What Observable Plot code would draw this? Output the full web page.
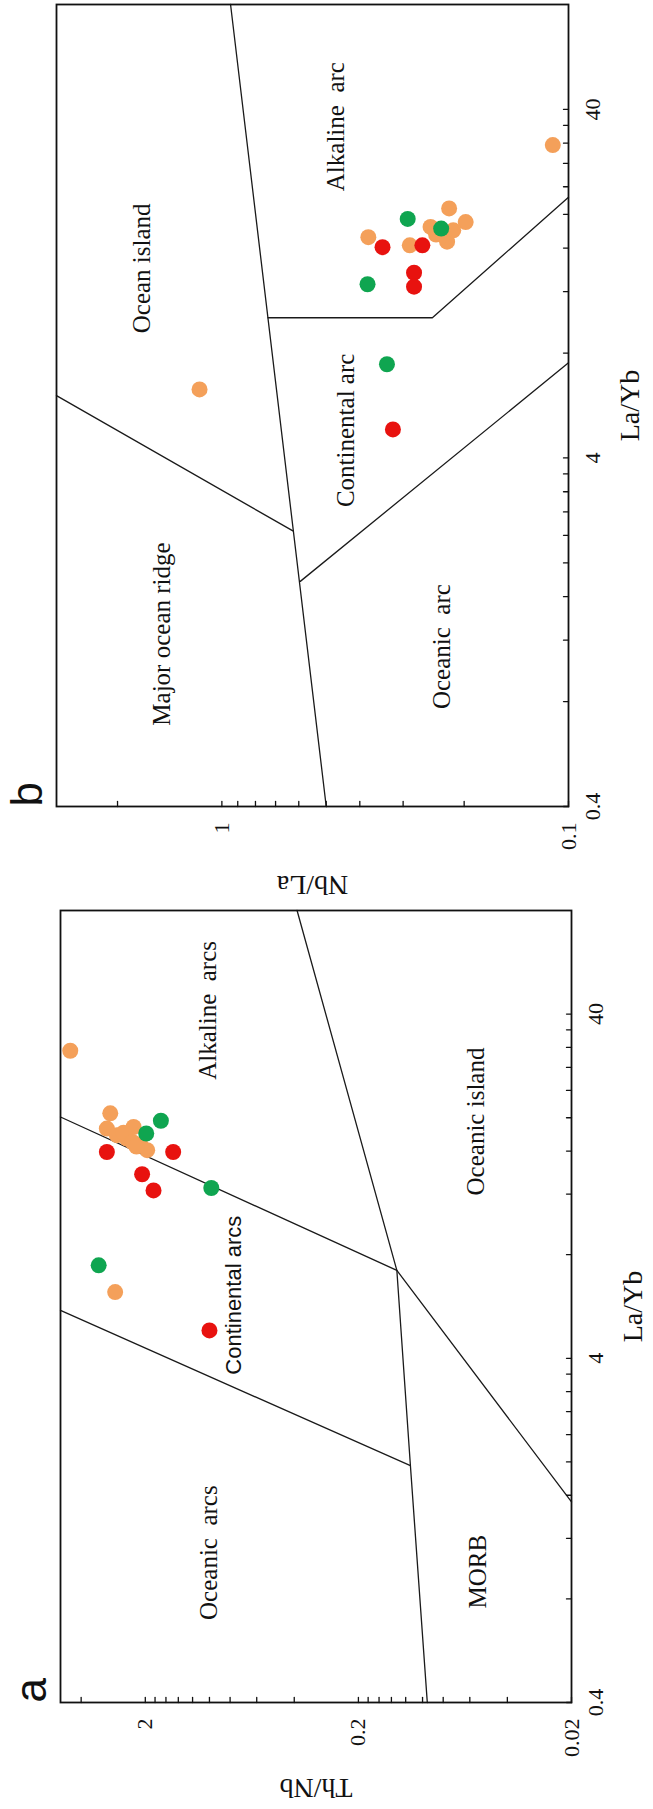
<!DOCTYPE html>
<html>
<head>
<meta charset="utf-8">
<script src="https://cdn.jsdelivr.net/npm/d3@7"></script>
<script src="https://cdn.jsdelivr.net/npm/@observablehq/plot@0.6"></script>
<style>
html, body { margin: 0; padding: 0; background: #fff; }
body { width: 653px; height: 1809px; overflow: hidden; position: relative; }
#fig { position: absolute; left: 0; top: 0; width: 1809px; height: 653px; display: flex;
       transform-origin: 0 0; transform: translate(0, 1809px) rotate(-90deg); background: #fff; }
</style>
</head>
<body>
<div id="fig"></div>
<script>
// ---------- axis ticks ----------
const xTicks = [0.4, 0.8, 1.2, 1.6, 2, 2.4, 2.8, 3.2, 3.6, 4, 8, 12, 16, 20, 24, 28, 32, 36, 40];
const xTickLabels = [0.4, 4, 40];
const aYTicks = [0.02, 0.04, 0.06, 0.08, 0.1, 0.12, 0.14, 0.16, 0.18, 0.2, 0.4, 0.6, 0.8, 1, 1.2, 1.4, 1.6, 1.8, 2, 4];
const aYTickLabels = [0.02, 0.2, 2];
const bYTicks = [0.1, 0.2, 0.3, 0.4, 0.5, 0.6, 0.7, 0.8, 0.9, 1, 2];
const bYTickLabels = [0.1, 1];

// ---------- panel a : La/Yb vs Th/Nb ----------
const aOrange = [[31.3, 4.5], [20.6, 2.92], [18.8, 2.27], [18.6, 3.03], [17.8, 2.72], [17.4, 2.44], [16.7, 2.11], [16.1, 1.96], [18.1, 2.53], [17.0, 2.3], [16.5, 2.2], [6.23, 2.77]];
const aRed = [[15.9, 3.03], [15.9, 1.48], [13.7, 2.07], [12.3, 1.83], [4.82, 1.0]];
const aGreen = [[19.6, 1.69], [18.0, 1.98], [12.5, 0.98], [7.45, 3.31]];
const aLineOceanicCont = [[5.51, 5], [1.95, 0.114]];
const aLineContAlk = [[20.1, 5], [7.2, 0.132]];
const aLineMorbArray = [[0.4, 0.095], [1.95, 0.114], [7.2, 0.132], [80, 0.388]];
const aLineMorbOib = [[7.2, 0.132], [1.53, 0.02]];
const aRegions = [
  {text: "Alkaline  arcs", x: 41, y: 1.02, sans: false},
  {text: "Oceanic island", x: 19.5, y: 0.056, sans: false},
  {text: "Continental arcs", x: 6.1, y: 0.77, sans: true},
  {text: "Oceanic  arcs", x: 1.09, y: 1.0, sans: false},
  {text: "MORB", x: 0.96, y: 0.055, sans: false}
];

// ---------- panel b : La/Yb vs Nb/La ----------
const bOrange = [[31.6, 0.111], [20.8, 0.221], [19.0, 0.198], [17.2, 0.378], [16.3, 0.287], [18.4, 0.25], [16.7, 0.224], [18.0, 0.215], [17.5, 0.241], [17.4, 0.23], [6.29, 1.16]];
const bRed = [[16.1, 0.344], [16.3, 0.264], [13.6, 0.279], [12.4, 0.279], [4.83, 0.321]];
const bGreen = [[19.4, 0.291], [18.2, 0.233], [12.6, 0.38], [7.43, 0.334]];
const bLineMain = [[0.4, 0.5], [80, 0.944]];
const bLineOceanIsland = [[6.04, 3], [2.47, 0.624]];
const bLineArc = [[1.77, 0.594], [7.5, 0.1]];
const bLineAlkaline = [[10.1, 0.736], [10.1, 0.247], [22.4, 0.1]];
const bRegions = [
  {text: "Alkaline  arc", x: 35.7, y: 0.47, sans: false},
  {text: "Ocean island", x: 14, y: 1.7, sans: false},
  {text: "Continental arc", x: 4.8, y: 0.437, sans: false},
  {text: "Major ocean ridge", x: 1.25, y: 1.49, sans: false},
  {text: "Oceanic  arc", x: 1.15, y: 0.231, sans: false}
];

const colors = {orange: "#f4a05a", red: "#e8120f", green: "#0fa550"};
const serif = "Liberation Serif, Times New Roman, serif";
const sans = "Liberation Sans, Arial, sans-serif";
const tickShape = {draw(ctx, l) { ctx.moveTo(0, 0); ctx.lineTo(0, -l); }};

function panel(o) {
  const P = d => d[0], Q = d => d[1];
  return Plot.plot({
    width: o.width, height: 653,
    marginLeft: o.ml, marginRight: o.mr, marginTop: o.mt, marginBottom: o.mb,
    style: {fontFamily: serif, background: "#fff", overflow: "visible", color: "#111"},
    x: {type: "log", domain: [0.4, 80]},
    y: {type: "log", domain: o.yDomain},
    marks: [
      ...o.lines.map(l => Plot.line(l, {x: P, y: Q, stroke: "#1a1a1a", strokeWidth: 1.3})),
      Plot.text(o.regions.filter(r => !r.sans), {x: "x", y: "y", text: "text", fontSize: 25, fontFamily: serif, fill: "#111"}),
      Plot.text(o.regions.filter(r => r.sans), {x: "x", y: "y", text: "text", fontSize: 22, fontFamily: sans, fill: "#111"}),
      Plot.dot(o.orange, {x: P, y: Q, r: 8, fill: colors.orange}),
      Plot.dot(o.red, {x: P, y: Q, r: 8, fill: colors.red}),
      Plot.dot(o.green, {x: P, y: Q, r: 8, fill: colors.green}),
      Plot.vectorX(xTicks, {x: d => d, frameAnchor: "bottom", length: 5, rotate: 0, anchor: "start", shape: tickShape, stroke: "#111", strokeWidth: 1.3}),
      Plot.vectorY(o.yTicks, {y: d => d, frameAnchor: "left", length: 5, rotate: 90, anchor: "start", shape: tickShape, stroke: "#111", strokeWidth: 1.3}),
      Plot.axisX(xTickLabels, {anchor: "bottom", tickSize: 0, tickPadding: 16, tickFormat: d => String(d), fontSize: 22, fontFamily: serif, label: null}),
      Plot.axisY(o.yTickLabels, {anchor: "left", tickSize: 0, tickPadding: 16, tickFormat: d => String(d), fontSize: 22, fontFamily: serif, label: null}),
      Plot.text(["La/Yb"], {frameAnchor: "bottom", dy: 62, textAnchor: "middle", lineAnchor: "middle", fontSize: 28, fontFamily: serif}),
      Plot.text([o.yLabel], {frameAnchor: "left", dx: o.yLabelDx, rotate: -90, textAnchor: "middle", lineAnchor: "middle", fontSize: 28, fontFamily: serif}),
      Plot.text([o.letter], {frameAnchor: "top-left", dy: -15, dx: 0, textAnchor: "start", lineAnchor: "bottom", fontSize: 44, fontFamily: sans}),
      Plot.frame({stroke: "#111", strokeWidth: 1.8})
    ]
  });
}

const fig = document.getElementById("fig");
fig.appendChild(panel({
  width: 904, ml: 106, mr: 6, mt: 60, mb: 82, yDomain: [0.02, 5],
  lines: [aLineOceanicCont, aLineContAlk, aLineMorbArray, aLineMorbOib],
  regions: aRegions, orange: aOrange, red: aRed, green: aGreen,
  yTicks: aYTicks, yTickLabels: aYTickLabels, yLabel: "Th/Nb", yLabelDx: -85, letter: "a"
}));
fig.appendChild(panel({
  width: 905, ml: 98, mr: 5, mt: 56, mb: 85, yDomain: [0.1, 3],
  lines: [bLineMain, bLineOceanIsland, bLineArc, bLineAlkaline],
  regions: bRegions, orange: bOrange, red: bRed, green: bGreen,
  yTicks: bYTicks, yTickLabels: bYTickLabels, yLabel: "Nb/La", yLabelDx: -78, letter: "b"
}));
</script>
</body>
</html>
